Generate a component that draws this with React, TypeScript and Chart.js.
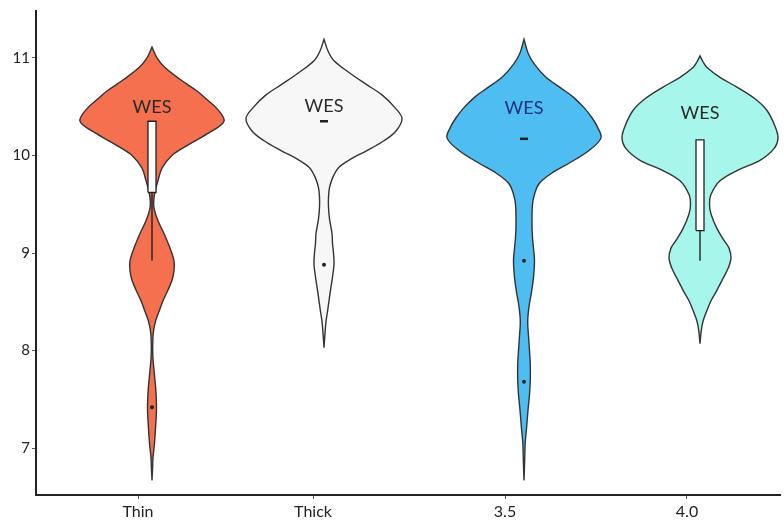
import React, { useEffect, useRef } from 'react';
import { Chart, registerables } from 'chart.js';

Chart.register(...registerables);

// ---- data ----
const categories = ['Thin', 'Thick', '3.5', '4.0'];
const violinCenters = [1.16, 2.88, 4.88, 6.64];
const labelPositions = [1.02, 2.77, 4.69, 6.51];

// density profiles: value levels and half-widths (in 1/100 x-units)
const thinLevels = [6.67, 6.8, 6.9, 7.05, 7.25, 7.42, 7.6, 7.8, 7.95, 8.1, 8.2, 8.3, 8.4, 8.51, 8.62, 8.72, 8.82, 8.92, 9.05, 9.2, 9.33, 9.46, 9.55, 9.65, 9.74, 9.87, 10.0, 10.1, 10.22, 10.35, 10.48, 10.58, 10.66, 10.78, 10.9, 11.0, 11.11];
const thinWidths = [0, 0.6, 1.0, 2.5, 3.8, 4.5, 3.8, 2.0, 0.8, 0.8, 1.5, 3.5, 7, 11, 16, 20, 22, 22, 18, 12, 6, 2, 1.8, 3.5, 6, 10, 20, 35, 55, 72, 65, 54, 45, 28, 13, 5, 0];

const thickLevels = [8.03, 8.15, 8.3, 8.4, 8.51, 8.62, 8.72, 8.88, 9.0, 9.1, 9.2, 9.35, 9.47, 9.57, 9.67, 9.78, 9.88, 9.97, 10.05, 10.15, 10.25, 10.38, 10.5, 10.62, 10.73, 10.85, 10.97, 11.07, 11.19];
const thickWidths = [0, 0.8, 2, 3.5, 5, 6.5, 8, 10, 9.5, 8.5, 8, 5.5, 4.5, 4.5, 5.5, 9, 15, 28, 43, 60, 72, 78, 70, 58, 42, 25, 10, 4, 0];

const w35Levels = [6.67, 6.85, 7.05, 7.2, 7.39, 7.55, 7.7, 7.86, 8.0, 8.15, 8.3, 8.45, 8.6, 8.75, 8.92, 9.05, 9.16, 9.3, 9.5, 9.6, 9.71, 9.82, 9.92, 10.05, 10.18, 10.3, 10.4, 10.49, 10.6, 10.69, 10.8, 10.94, 11.05, 11.19];
const w35Widths = [0, 0.6, 1.2, 2.5, 4, 5.5, 6.3, 6.3, 5.5, 4.5, 3.7, 5, 7.5, 9.5, 10.5, 9.5, 8.5, 8, 8.5, 10.5, 15, 28, 45, 65, 77, 73, 67, 60, 49, 37, 22, 10, 4, 0];

const w40Levels = [8.07, 8.2, 8.3, 8.4, 8.51, 8.62, 8.72, 8.84, 8.95, 9.05, 9.13, 9.25, 9.4, 9.5, 9.6, 9.74, 9.85, 9.95, 10.07, 10.18, 10.3, 10.46, 10.58, 10.7, 10.8, 10.9, 10.96, 11.02];
const w40Widths = [0, 1.2, 3, 6.5, 11, 17, 22, 28, 31, 29, 24, 17, 11, 9.5, 11, 20, 38, 60, 74, 78, 75, 67, 55, 37, 20, 7, 3, 0];

const levelsList = [thinLevels, thickLevels, w35Levels, w40Levels];
const widthsList = [thinWidths, thickWidths, w35Widths, w40Widths];

// box (low, high) per category; null = none
const boxLow = [9.62, null, null, 9.23];
const boxHigh = [10.35, null, null, 10.16];
const whiskerLow = [8.92, null, null, 8.92];
const medians = [null, 10.35, 10.17, null];
const outlierCat = [0, 1, 2, 2];
const outlierVal = [7.42, 8.88, 8.92, 7.68];
const wesValues = [10.49, 10.5, 10.48, 10.43];

const yTicks = [7, 8, 9, 10, 11];

// ---- styles ----
const fills = ['#F4704F', '#F7F7F7', '#4DBDF2', '#A6F6EC'];
const wesColors = ['#2a2a2a', '#2a2a2a', '#1c2f7a', '#2a2a2a'];
const outline = '#333333';
const FONT = 'Lato, "Open Sans", sans-serif';

function violinPoints(i: number) {
  const c = violinCenters[i];
  const lv = levelsList[i];
  const wd = widthsList[i];
  const pts: { x: number; y: number }[] = [];
  for (let k = 0; k < lv.length; k++) pts.push({ x: c + wd[k] / 100, y: lv[k] });
  for (let k = lv.length - 1; k >= 0; k--) pts.push({ x: c - wd[k] / 100, y: lv[k] });
  return pts;
}

const wesPlugin = {
  id: 'wesLabels',
  afterDatasetsDraw(chart: any) {
    const { ctx, scales } = chart;
    ctx.save();
    ctx.font = `18px ${FONT}`;
    ctx.textAlign = 'center';
    ctx.textBaseline = 'middle';
    categories.forEach((_, i) => {
      ctx.fillStyle = wesColors[i];
      ctx.fillText('WES', scales.x.getPixelForValue(violinCenters[i]), scales.y.getPixelForValue(wesValues[i]));
    });
    ctx.restore();
  },
};

export default function App() {
  const ref = useRef<HTMLCanvasElement | null>(null);

  useEffect(() => {
    if (!ref.current) return;
    const datasets: any[] = [];
    categories.forEach((_, i) => {
      datasets.push({
        type: 'scatter',
        data: violinPoints(i),
        showLine: true,
        fill: 'shape',
        backgroundColor: fills[i],
        borderColor: outline,
        borderWidth: 1.4,
        pointRadius: 0,
        tension: 0.35,
        order: 5,
      });
    });
    categories.forEach((_, i) => {
      const c = violinCenters[i];
      const lo = boxLow[i];
      const hi = boxHigh[i];
      const wl = whiskerLow[i];
      if (lo !== null && hi !== null && wl !== null) {
        datasets.push({
          type: 'scatter',
          data: [{ x: c, y: wl }, { x: c, y: lo }],
          showLine: true,
          borderColor: '#222',
          borderWidth: 1.4,
          pointRadius: 0,
          order: 3,
        });
        datasets.push({
          type: 'scatter',
          data: [
            { x: c - 0.04, y: lo },
            { x: c + 0.04, y: lo },
            { x: c + 0.04, y: hi },
            { x: c - 0.04, y: hi },
            { x: c - 0.04, y: lo },
          ],
          showLine: true,
          fill: 'shape',
          backgroundColor: '#ffffff',
          borderColor: '#222',
          borderWidth: 1.3,
          pointRadius: 0,
          order: 2,
        });
      }
      const m = medians[i];
      if (m !== null) {
        datasets.push({
          type: 'scatter',
          data: [{ x: c - 0.04, y: m }, { x: c + 0.04, y: m }],
          showLine: true,
          borderColor: '#222',
          borderWidth: 2.5,
          pointRadius: 0,
          order: 2,
        });
      }
    });
    datasets.push({
      type: 'scatter',
      data: outlierVal.map((v, k) => ({ x: violinCenters[outlierCat[k]], y: v })),
      pointRadius: 2,
      pointBackgroundColor: '#222',
      pointBorderWidth: 0,
      order: 1,
    });

    const chart = new Chart(ref.current, {
      type: 'scatter',
      data: { datasets },
      options: {
        animation: false,
        responsive: true,
        maintainAspectRatio: false,
        layout: { padding: { top: 10, right: 0, left: 0, bottom: 0 } },
        plugins: { legend: { display: false }, tooltip: { enabled: false } },
        scales: {
          x: {
            type: 'linear',
            min: 0,
            max: 7.44,
            afterBuildTicks: (s: any) => {
              s.ticks = labelPositions.map((v) => ({ value: v }));
            },
            afterFit: (s: any) => {
              s.height = 26;
            },
            border: { display: true, color: '#222', width: 2 },
            grid: { display: true, drawOnChartArea: false, drawTicks: true, tickLength: 4, color: '#555' },
            ticks: {
              autoSkip: false,
              maxRotation: 0,
              padding: 3,
              color: '#222',
              font: { family: FONT, size: 16 },
              callback: (_v: any, idx: number) => categories[idx],
            },
          },
          y: {
            type: 'linear',
            min: 6.52,
            max: 11.48,
            afterBuildTicks: (s: any) => {
              s.ticks = yTicks.map((v) => ({ value: v }));
            },
            afterFit: (s: any) => {
              s.width = 36;
            },
            border: { display: true, color: '#222', width: 2 },
            grid: { display: true, drawOnChartArea: false, drawTicks: true, tickLength: 4, color: '#555' },
            ticks: {
              padding: 2,
              color: '#222',
              font: { family: FONT, size: 15 },
              callback: (v: any) => String(v),
            },
          },
        },
      },
      plugins: [wesPlugin],
    } as any);
    return () => chart.destroy();
  }, []);

  return (
    <div style={{ position: 'absolute', left: 0, top: 0, width: 784, height: 521, background: '#fff' }}>
      <canvas ref={ref} />
    </div>
  );
}
